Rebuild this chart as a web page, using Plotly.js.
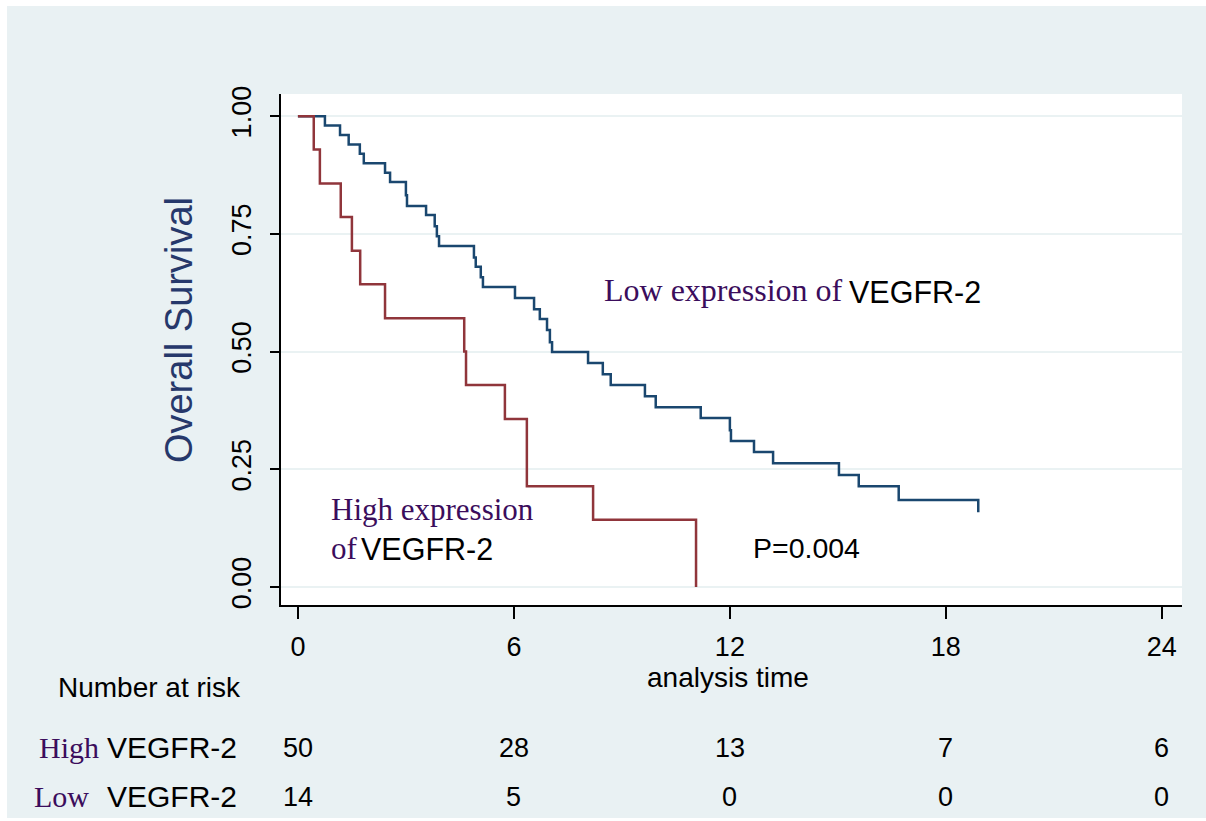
<!DOCTYPE html>
<html>
<head>
<meta charset="utf-8">
<script src="https://cdn.plot.ly/plotly-3.0.1.min.js"></script>
<style>
  html, body { margin: 0; padding: 0; background: #ffffff; width: 1206px; height: 821px; overflow: hidden; }
  #chart { position: absolute; left: 7px; top: 6px; width: 1199px; height: 812px; }
</style>
</head>
<body>
<div id="chart"></div>
<script>
// Kaplan-Meier step points (time in months, survival probability)
const highExprTime = [0, 0.44, 0.61, 1.19, 1.5, 1.73, 2.42, 4.62, 4.67, 5.75, 6.36, 8.2, 11.06];
const highExprSurv = [1, 0.929, 0.857, 0.786, 0.714, 0.643, 0.571, 0.5, 0.429, 0.357, 0.214, 0.143, 0];

const lowExprTime = [0, 0.75, 1.17, 1.41, 1.72, 1.83, 2.42, 2.56, 3.0, 3.03, 3.56, 3.8, 3.86, 3.92,
  4.89, 4.94, 5.08, 5.14, 6.03, 6.56, 6.72, 6.92, 7.0, 7.06, 8.06, 8.47, 8.69, 9.64, 9.94,
  11.19, 12.0, 12.03, 12.67, 13.2, 15.03, 15.58, 16.69, 18.9];
const lowExprSurv = [1, 0.98, 0.96, 0.94, 0.92, 0.90, 0.88, 0.86, 0.832, 0.809, 0.79, 0.766, 0.745, 0.724,
  0.70, 0.68, 0.658, 0.637, 0.614, 0.59, 0.569, 0.546, 0.52, 0.499, 0.476, 0.452, 0.429, 0.405, 0.382,
  0.359, 0.333, 0.31, 0.287, 0.263, 0.238, 0.214, 0.185, 0.159];

// Axis ticks
const xTicks = [0, 6, 12, 18, 24];
const yTicks = [0, 0.25, 0.5, 0.75, 1];
const yTickText = ['0.00', '0.25', '0.50', '0.75', '1.00'];

// Number at risk table
const riskTimes = [0, 6, 12, 18, 24];
const riskHigh = [50, 28, 13, 7, 6];
const riskLow = [14, 5, 0, 0, 0];

const SANS = 'Liberation Sans, Arial, sans-serif';
const SERIF = 'Liberation Serif, Times New Roman, serif';
const PURPLE = '#3b0d5c';

const traces = [
  {
    x: lowExprTime, y: lowExprSurv, type: 'scatter', mode: 'lines',
    line: {shape: 'hv', color: '#1a476f', width: 2.5}, hoverinfo: 'skip', showlegend: false
  },
  {
    x: highExprTime, y: highExprSurv, type: 'scatter', mode: 'lines',
    line: {shape: 'hv', color: '#90353b', width: 2.5}, hoverinfo: 'skip', showlegend: false
  }
];

const ann = [];
function txt(o) { ann.push(Object.assign({showarrow: false, xanchor: 'left', yanchor: 'middle'}, o)); }

// In-plot labels
txt({xref: 'x', yref: 'y', x: 8.45, y: 0.63, text: 'Low expression of', font: {family: SERIF, size: 32, color: PURPLE}});
txt({xref: 'x', yref: 'y', x: 15.25, y: 0.627, text: 'VEGFR-2', font: {family: SANS, size: 30.5, color: '#000'}});
txt({xref: 'x', yref: 'y', x: 0.86, y: 0.165, text: 'High expression', font: {family: SERIF, size: 31, color: PURPLE}});
txt({xref: 'x', yref: 'y', x: 0.86, y: 0.083, text: 'of', font: {family: SERIF, size: 31, color: PURPLE}});
txt({xref: 'x', yref: 'y', x: 1.7, y: 0.08, text: 'VEGFR-2', font: {family: SANS, size: 30.5, color: '#000'}});
txt({xref: 'x', yref: 'y', x: 12.6, y: 0.083, text: 'P=0.004', font: {family: SANS, size: 28.5, color: '#000'}});

// Y title
txt({xref: 'paper', yref: 'paper', x: -0.1132, y: 0.538, xanchor: 'center', textangle: -90,
     text: 'Overall Survival', font: {family: SANS, size: 38, color: '#26386b'}});

// X title
txt({xref: 'x', yref: 'paper', x: 11.94, y: -0.141, xanchor: 'center',
     text: 'analysis time', font: {family: SANS, size: 28, color: '#000'}});

// Risk table
txt({xref: 'paper', yref: 'paper', x: -0.2497, y: -0.1605, text: 'Number at risk', font: {family: SANS, size: 28, color: '#000'}});
txt({xref: 'paper', yref: 'paper', x: -0.2708, y: -0.2798, text: 'High', font: {family: SERIF, size: 30, color: PURPLE}});
txt({xref: 'paper', yref: 'paper', x: -0.1953, y: -0.2798, text: 'VEGFR-2', font: {family: SANS, size: 30, color: '#000'}});
txt({xref: 'paper', yref: 'paper', x: -0.2764, y: -0.3757, text: 'Low', font: {family: SERIF, size: 30, color: PURPLE}});
txt({xref: 'paper', yref: 'paper', x: -0.1953, y: -0.3757, text: 'VEGFR-2', font: {family: SANS, size: 30, color: '#000'}});
riskTimes.forEach((t, i) => {
  txt({xref: 'x', yref: 'paper', x: t, y: -0.2798, xanchor: 'center', text: String(riskHigh[i]), font: {family: SANS, size: 27, color: '#000'}});
  txt({xref: 'x', yref: 'paper', x: t, y: -0.3757, xanchor: 'center', text: String(riskLow[i]), font: {family: SANS, size: 27, color: '#000'}});
});

const layout = {
  width: 1199, height: 812,
  margin: {l: 274, r: 24, t: 88, b: 213, pad: 0},
  paper_bgcolor: '#e9f1f3',
  plot_bgcolor: '#ffffff',
  font: {family: SANS, color: '#000'},
  xaxis: {
    range: [-0.47, 24.56], tickvals: xTicks, ticks: 'outside', ticklen: 12, tickwidth: 2, tickcolor: '#000',
    showline: true, linecolor: '#000', linewidth: 2, showgrid: false, zeroline: false,
    tickfont: {family: SANS, size: 27, color: '#000'}, ticklabelstandoff: 5
  },
  yaxis: {
    range: [-0.038, 1.047], tickvals: yTicks, ticktext: yTickText, ticks: 'outside', ticklen: 9, tickwidth: 2,
    tickcolor: '#000', showline: true, linecolor: '#000', linewidth: 2, showgrid: true, gridcolor: '#eaf2f3',
    gridwidth: 2, zeroline: false, tickangle: -90, tickfont: {family: SANS, size: 27, color: '#000'},
    ticklabelstandoff: 8
  },
  annotations: ann,
  showlegend: false
};

Plotly.newPlot('chart', traces, layout, {displayModeBar: false, staticPlot: true});
</script>
</body>
</html>
